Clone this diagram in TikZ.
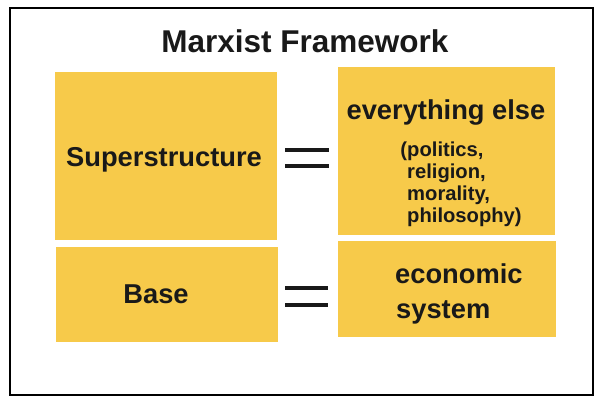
\documentclass[tikz,border=0pt]{standalone}
\usepackage{fontspec}
\setmainfont{Liberation Sans}
\definecolor{boxyellow}{RGB}{247,202,74}
\begin{document}
\begin{tikzpicture}[x=1pt,y=-1pt,
  box/.style={fill=boxyellow, draw=none, inner sep=0pt, outer sep=0pt, anchor=north west},
  big/.style={font=\fontsize{27.3}{31}\selectfont\bfseries, inner sep=0pt, text=black!90},
  small/.style={font=\fontsize{20.2}{23}\selectfont\bfseries, inner sep=0pt, anchor=base west, text=black!90},
  eqbar/.style={line width=3.5pt, black!90}]
\useasboundingbox (0,0) rectangle (595,402);
\fill[white] (0,0) rectangle (595,402);
\draw[line width=2pt] (10,8) rectangle (593,395);
% title
\node[big, font=\fontsize{31.5}{35}\selectfont\bfseries, anchor=base] (title) at (305,52) {Marxist Framework};
% boxes
\node[box, minimum width=222pt, minimum height=168pt] (sup) at (55,72) {};
\node[box, minimum width=217pt, minimum height=168pt] (else) at (338,67) {};
\node[box, minimum width=222pt, minimum height=95pt] (base) at (56,247) {};
\node[box, minimum width=218pt, minimum height=96pt] (econ) at (338,241) {};
% texts
\node[big, anchor=base] (tsup) at (164,166) {Superstructure};
\node[big, anchor=base] (tbase) at (156,303) {Base};
\node[big, anchor=base] (telse) at (446,119) {everything else};
\node[small] (l1) at (407,156) {\llap{(}politics,};
\node[small] (l2) at (407,178) {religion,};
\node[small] (l3) at (407,200) {morality,};
\node[small] (l4) at (407,222) {philosophy)};
\node[big, anchor=base west] (te1) at (395,283) {economic};
\node[big, anchor=base west] (te2) at (396,318) {system};
% equals signs
\draw[eqbar] (285,150) -- (329,150);
\draw[eqbar] (285,166) -- (329,166);
\draw[eqbar] (285,288) -- (328,288);
\draw[eqbar] (285,305) -- (328,305);
\end{tikzpicture}
\end{document}
